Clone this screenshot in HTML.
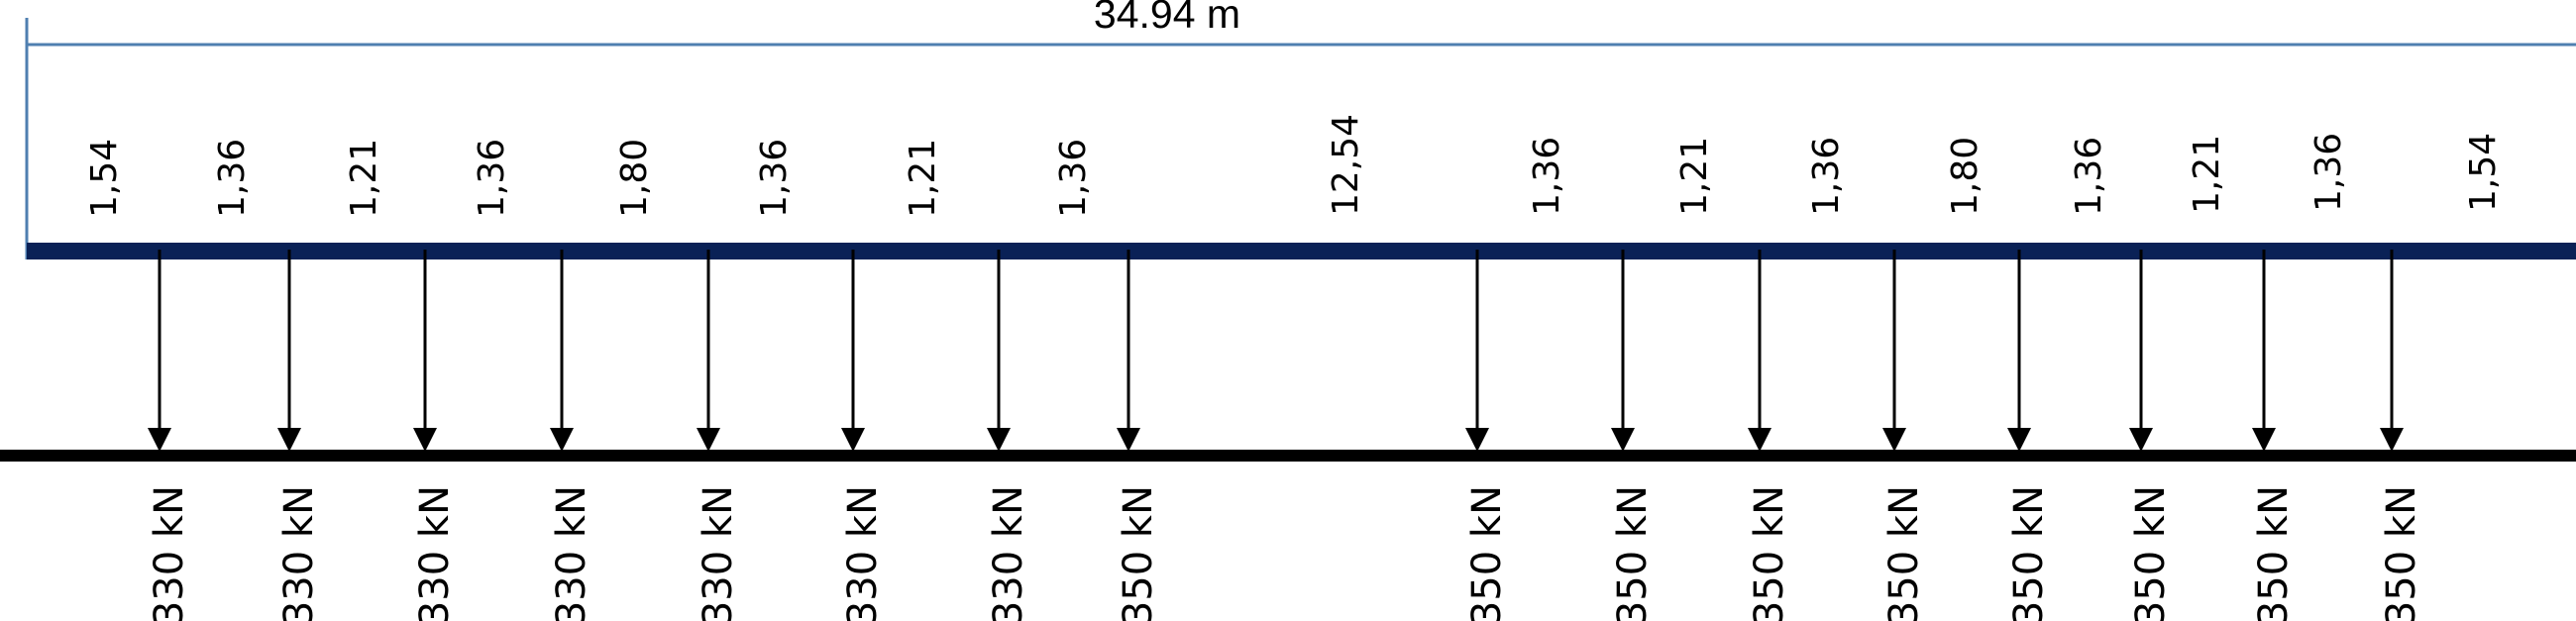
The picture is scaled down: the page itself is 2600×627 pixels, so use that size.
<!DOCTYPE html>
<html><head><meta charset="utf-8"><style>
html,body{margin:0;padding:0;background:#fff;width:2600px;height:627px;overflow:hidden}
svg{display:block}
text{font-family:"DejaVu Sans",sans-serif;fill:#000}
</style></head><body>
<svg width="2600" height="627" viewBox="0 0 2600 627" xmlns="http://www.w3.org/2000/svg">
<line x1="27" y1="18" x2="27" y2="262" stroke="#4f7fb0" stroke-width="3"/>
<line x1="27" y1="45" x2="2600" y2="45" stroke="#4f7fb0" stroke-width="3"/>
<text x="1178" y="28" font-size="41" text-anchor="middle" style="font-family:'Liberation Sans',sans-serif">34.94 m</text>
<rect x="27" y="245" width="2573" height="17" fill="#0a2156"/>
<rect x="0" y="454" width="2600" height="12" fill="#000"/>
<g stroke="#000" stroke-width="3">
<line x1="161" y1="252" x2="161" y2="432"/><line x1="292" y1="252" x2="292" y2="432"/>
<line x1="429" y1="252" x2="429" y2="432"/><line x1="567" y1="252" x2="567" y2="432"/>
<line x1="715" y1="252" x2="715" y2="432"/><line x1="861" y1="252" x2="861" y2="432"/>
<line x1="1008" y1="252" x2="1008" y2="432"/><line x1="1139" y1="252" x2="1139" y2="432"/>
<line x1="1491" y1="252" x2="1491" y2="432"/><line x1="1638" y1="252" x2="1638" y2="432"/>
<line x1="1776" y1="252" x2="1776" y2="432"/><line x1="1912" y1="252" x2="1912" y2="432"/>
<line x1="2038" y1="252" x2="2038" y2="432"/><line x1="2161" y1="252" x2="2161" y2="432"/>
<line x1="2285" y1="252" x2="2285" y2="432"/><line x1="2414" y1="252" x2="2414" y2="432"/>
</g>
<g fill="#000">
<path d="M149,432 h24 l-12,24z"/><path d="M280,432 h24 l-12,24z"/><path d="M417,432 h24 l-12,24z"/><path d="M555,432 h24 l-12,24z"/>
<path d="M703,432 h24 l-12,24z"/><path d="M849,432 h24 l-12,24z"/><path d="M996,432 h24 l-12,24z"/><path d="M1127,432 h24 l-12,24z"/>
<path d="M1479,432 h24 l-12,24z"/><path d="M1626,432 h24 l-12,24z"/><path d="M1764,432 h24 l-12,24z"/><path d="M1900,432 h24 l-12,24z"/>
<path d="M2026,432 h24 l-12,24z"/><path d="M2149,432 h24 l-12,24z"/><path d="M2273,432 h24 l-12,24z"/><path d="M2402,432 h24 l-12,24z"/>
</g>
<g font-size="36">
<text transform="translate(117,220) rotate(-90)">1,54</text>
<text transform="translate(246,220) rotate(-90)">1,36</text>
<text transform="translate(379,220) rotate(-90)">1,21</text>
<text transform="translate(508,220) rotate(-90)">1,36</text>
<text transform="translate(652,220) rotate(-90)">1,80</text>
<text transform="translate(793,220) rotate(-90)">1,36</text>
<text transform="translate(943,220) rotate(-90)">1,21</text>
<text transform="translate(1095,220) rotate(-90)">1,36</text>
<text transform="translate(1370,218) rotate(-90)">12,54</text>
<text transform="translate(1573,218) rotate(-90)">1,36</text>
<text transform="translate(1722,218) rotate(-90)">1,21</text>
<text transform="translate(1855,218) rotate(-90)">1,36</text>
<text transform="translate(1995,218) rotate(-90)">1,80</text>
<text transform="translate(2120,218) rotate(-90)">1,36</text>
<text transform="translate(2239,216) rotate(-90)">1,21</text>
<text transform="translate(2362,214) rotate(-90)">1,36</text>
<text transform="translate(2518,214) rotate(-90)">1,54</text>
</g>
<g font-size="40" text-anchor="end">
<text transform="translate(184,490) rotate(-90)">330 kN</text>
<text transform="translate(315,490) rotate(-90)">330 kN</text>
<text transform="translate(452,490) rotate(-90)">330 kN</text>
<text transform="translate(590,490) rotate(-90)">330 kN</text>
<text transform="translate(738,490) rotate(-90)">330 kN</text>
<text transform="translate(884,490) rotate(-90)">330 kN</text>
<text transform="translate(1031,490) rotate(-90)">330 kN</text>
<text transform="translate(1162,490) rotate(-90)">350 kN</text>
<text transform="translate(1514,490) rotate(-90)">350 kN</text>
<text transform="translate(1661,490) rotate(-90)">350 kN</text>
<text transform="translate(1799,490) rotate(-90)">350 kN</text>
<text transform="translate(1935,490) rotate(-90)">350 kN</text>
<text transform="translate(2061,490) rotate(-90)">350 kN</text>
<text transform="translate(2184,490) rotate(-90)">350 kN</text>
<text transform="translate(2308,490) rotate(-90)">350 kN</text>
<text transform="translate(2437,490) rotate(-90)">350 kN</text>
</g>
</svg>
</body></html>
